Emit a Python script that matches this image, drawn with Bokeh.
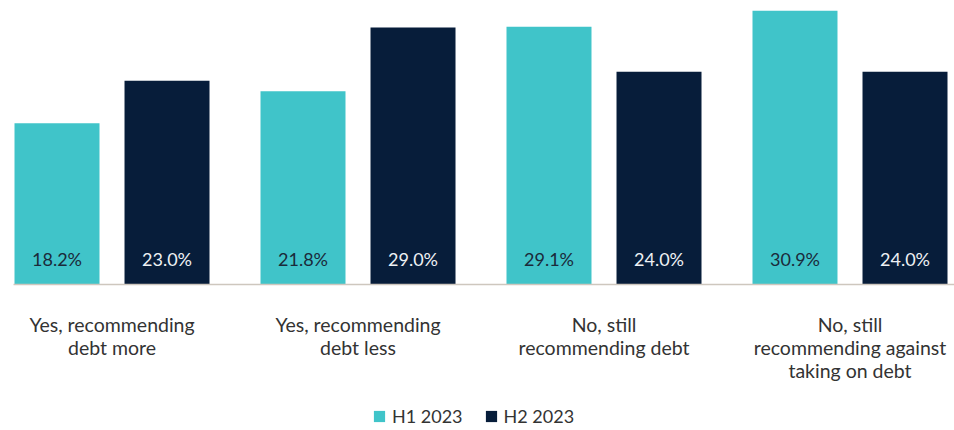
from bokeh.plotting import figure
from bokeh.models import ColumnDataSource, Range1d, Legend, LegendItem
from bokeh.transform import dodge
from bokeh.core.properties import value
from bokeh.embed import file_html
from bokeh.resources import INLINE

# Survey answers (x axis) and the two half-year series
categories = [
    "Yes, recommending\ndebt more",
    "Yes, recommending\ndebt less",
    "No, still\nrecommending debt",
    "No, still\nrecommending against\ntaking on debt",
]
series_names = ["H1 2023", "H2 2023"]
h1_values = [18.2, 21.8, 29.1, 30.9]
h2_values = [23.0, 29.0, 24.0, 24.0]

TEAL = "#40C4C9"
NAVY = "#071D3A"
FONT = "Lato"

idx = list(range(len(categories)))
src = ColumnDataSource(dict(
    idx=idx,
    cat=categories,
    h1=h1_values,
    h2=h2_values,
    h1_lbl=[f"{v:.1f}%" for v in h1_values],
    h2_lbl=[f"{v:.1f}%" for v in h2_values],
    zero=[0] * len(idx),
))

offset = 0.2236   # half the distance between the two bars of a group
bar_w = 0.3455

p = figure(
    width=954, height=430,
    x_range=Range1d(-0.4533, 3.4248),
    y_range=Range1d(-16.48, 32.05),
    x_axis_location=None, y_axis_location=None,
    toolbar_location=None, output_backend="svg",
    min_border=0, outline_line_color=None,
    background_fill_color="white", border_fill_color="white",
)
p.xgrid.visible = False
p.ygrid.visible = False

r1 = p.vbar(x=dodge("idx", -offset, range=p.x_range), top="h1", width=bar_w,
            source=src, fill_color=TEAL, line_color=None)
r2 = p.vbar(x=dodge("idx", offset, range=p.x_range), top="h2", width=bar_w,
            source=src, fill_color=NAVY, line_color=None)

# baseline under the bars
x_left = idx[0] - offset - bar_w / 2 - 0.004
p.segment(x0=[x_left], y0=[0], x1=[p.x_range.end], y1=[0],
          line_color="#CEC7BE", line_width=1.5)

# value labels near the foot of each bar
p.text(x=dodge("idx", -offset, range=p.x_range), y="zero", text="h1_lbl", source=src,
       text_align="center", text_baseline="middle", y_offset=-25,
       text_font=value(FONT), text_font_size="18px", text_color="#1B2A3A")
p.text(x=dodge("idx", offset, range=p.x_range), y="zero", text="h2_lbl", source=src,
       text_align="center", text_baseline="middle", y_offset=-25,
       text_font=value(FONT), text_font_size="18px", text_color="#EEF1F4")

# category names below the baseline
p.text(x="idx", y="zero", text="cat", source=src,
       text_align="center", text_baseline="top", y_offset=29,
       text_line_height=1.0,
       text_font=value(FONT), text_font_size="19.5px", text_color="#333333")

legend = Legend(
    items=[LegendItem(label=series_names[0], renderers=[r1]),
           LegendItem(label=series_names[1], renderers=[r2])],
    orientation="horizontal", location=(372, 3),
    glyph_width=14, glyph_height=14, label_height=20,
    label_standoff=6, spacing=21, padding=0, margin=0,
    border_line_color=None, background_fill_alpha=0,
    label_text_font=FONT, label_text_font_size="18px", label_text_color="#333333",
)
p.add_layout(legend, "center")

open("out.html", "w").write(file_html(p, INLINE))
